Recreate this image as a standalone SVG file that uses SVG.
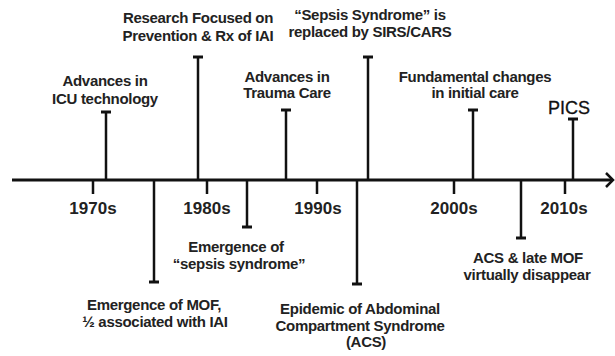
<svg xmlns="http://www.w3.org/2000/svg" width="615" height="356" viewBox="0 0 615 356">
<style>
.t{font-family:"Liberation Sans",Arial,sans-serif;font-weight:bold;font-size:15px;fill:#222;text-anchor:middle;letter-spacing:-0.3px}
.y{font-family:"Liberation Sans",Arial,sans-serif;font-weight:bold;font-size:17px;fill:#222;text-anchor:middle}
.p{font-family:"Liberation Sans",Arial,sans-serif;font-size:18px;fill:#111;text-anchor:middle;stroke:#111;stroke-width:0.3}
.s{stroke:#111;stroke-width:2.5;fill:none}
.c{stroke:#111;stroke-width:3;fill:none}
</style>
<rect width="615" height="356" fill="#fff"/>
<g id="connectors">
<line x1="12" y1="180" x2="612" y2="180" stroke="#111" stroke-width="3"/>
<polyline points="606,173 613,180 606,187" stroke="#111" stroke-width="2.5" fill="none"/>
<path class="s" d="M93 180V194M207 180V194M317 180V194M454 180V194M565 180V194"/>
</g>
<g id="y1970"><text class="y" x="93" y="214">1970s</text></g>
<g id="y1980"><text class="y" x="207" y="214">1980s</text></g>
<g id="y1990"><text class="y" x="318" y="214">1990s</text></g>
<g id="y2000"><text class="y" x="454" y="214">2000s</text></g>
<g id="y2010"><text class="y" x="564" y="214">2010s</text></g>
<g id="icu">
<path class="s" d="M106 180V112"/><path class="c" d="M101 112H111"/>
<text class="t" x="105" y="86">Advances in</text><text class="t" x="105" y="104">ICU technology</text>
</g>
<g id="research">
<path class="s" d="M198 180V57"/><path class="c" d="M193 57H203"/>
<text class="t" x="198" y="23">Research Focused on</text><text class="t" x="198" y="41">Prevention &amp; Rx of IAI</text>
</g>
<g id="trauma">
<path class="s" d="M286 180V110"/><path class="c" d="M281 110H291"/>
<text class="t" x="287" y="82">Advances in</text><text class="t" x="287" y="98">Trauma Care</text>
</g>
<g id="sirs">
<path class="s" d="M368 180V57"/><path class="c" d="M363 57H373"/>
<text class="t" x="370" y="20">“Sepsis Syndrome” is</text><text class="t" x="370" y="37">replaced by SIRS/CARS</text>
</g>
<g id="fundamental">
<path class="s" d="M473 180V110"/><path class="c" d="M468 110H478"/>
<text class="t" x="475" y="82">Fundamental changes</text><text class="t" x="475" y="98">in initial care</text>
</g>
<g id="pics">
<path class="s" d="M573 180V119"/><path class="c" d="M568 119H578"/>
<text class="p" x="569" y="114">PICS</text>
</g>
<g id="mof">
<path class="s" d="M154 180V282"/><path class="c" d="M149 282H159"/>
<text class="t" x="154" y="310">Emergence of MOF,</text><text class="t" x="155" y="327">½ associated with IAI</text>
</g>
<g id="sepsis">
<path class="s" d="M247 180V227"/><path class="c" d="M242 227H252"/>
<text class="t" x="236" y="252">Emergence of</text><text class="t" x="239" y="269">“sepsis syndrome”</text>
</g>
<g id="acs">
<path class="s" d="M357 180V284"/><path class="c" d="M352 284H362"/>
<text class="t" x="360" y="314">Epidemic of Abdominal</text><text class="t" x="360" y="331">Compartment Syndrome</text><text class="t" x="366" y="347">(ACS)</text>
</g>
<g id="latemof">
<path class="s" d="M521 180V238"/><path class="c" d="M516 238H526"/>
<text class="t" x="528" y="263">ACS &amp; late MOF</text><text class="t" x="527" y="280">virtually disappear</text>
</g>
</svg>
